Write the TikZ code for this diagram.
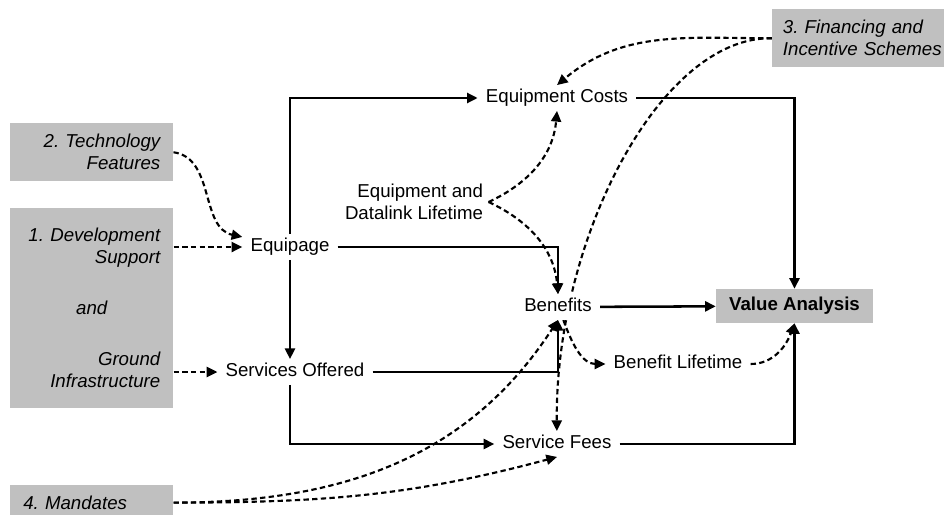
\documentclass[tikz,border=0pt]{standalone}
\usepackage{fontspec}
\setmainfont{Liberation Sans}
\usetikzlibrary{arrows.meta, backgrounds}
\definecolor{boxgray}{RGB}{192,192,192}
\frenchspacing

\begin{document}
\begin{tikzpicture}[x=0.75pt, y=0.75pt,
    font=\fontsize{14}{16.5}\selectfont,
    item/.style={inner xsep=6pt, inner ysep=3pt, text height=10pt, text depth=3pt},
    factor/.style={fill=boxgray, font=\fontsize{14}{16.5}\selectfont\itshape,
      inner xsep=9.75pt, inner ysep=0pt, text width=102.75pt, align=right,
      anchor=north west},
    flow/.style={-{Triangle[length=8pt, width=7.5pt]}, line width=1.9pt},
    link/.style={flow, line width=1.6pt, dash pattern=on 4pt off 2.5pt},
    hv/.style={to path={-| (\tikztotarget)}},
    vh/.style={to path={|- (\tikztotarget)}}]
  \useasboundingbox (0,0) rectangle (944,-514);

  \node[factor, minimum height=43.5pt] (tech) at (10,-123) {2. Technology\\Features};
  \node[factor, minimum height=150pt] (dev) at (10,-208)
    {1. Development\\Support\\[21.75pt]\makebox[\linewidth]{and}\\[21.75pt]Ground\\Infrastructure};
  \node[factor, minimum height=26pt, align=left] (mand) at (10,-485) {4. Mandates};
  \node[factor, minimum height=43.5pt, text width=125pt, inner xsep=8pt, align=left] (fin)
    at (772,-9) {3. Financing and\\Incentive Schemes};
  \node[item, fill=boxgray, font=\fontsize{14}{16.5}\selectfont\bfseries,
    minimum width=117.75pt, minimum height=25.5pt] (value) at (794.5,-306) {Value Analysis};

  \node[item] (cost) at (557,-98) {Equipment Costs};
  \node[item] (equip) at (290,-247) {Equipage};
  \node[align=right, inner sep=4pt] (datal) at (414,-202) {Equipment and\\Datalink Lifetime};
  \node[item, fill=white] (bene) at (558,-307) {Benefits};
  \node[item] (serv) at (295,-372) {Services Offered};
  \node[item] (blife) at (678,-364) {Benefit Lifetime};
  \node[item] (fees) at (557,-444) {Service Fees};

  \begin{scope}[on background layer]
    \path[flow]
      (equip) edge[vh] (cost)
              edge (equip |- serv.north)
              edge[hv] (bene)
      (equip |- serv.south) edge[vh] (fees)
      (serv) edge[hv] (bene)
      (bene) edge (value)
      (cost) edge[hv] (value)
      (fees) edge[hv] (value);
    \path[link]
      (dev.east |- equip) edge (equip)
      (dev.east |- serv) edge (serv)
      (fin.west) edge[out=180, in=40] (cost.north)
      (datal.east) edge[out=25, in=-95] (cost.south)
                   edge[out=-25, in=95] (bene.north)
      (mand.east) edge[out=0, in=237] (bene.south)
                  edge[out=0, in=195] (fees.south)
      ([xshift=4pt]bene.south) edge[out=-70, in=180] (blife.west)
      (blife.east) edge[out=0, in=-110] (value.south);
    \draw[link] (tech.east) .. controls (215,-158) and (200,-228) .. (equip);
    \draw[link] (fin.west) .. controls (660,-36) and (555,-240) .. (fees);
  \end{scope}
\end{tikzpicture}
\end{document}
